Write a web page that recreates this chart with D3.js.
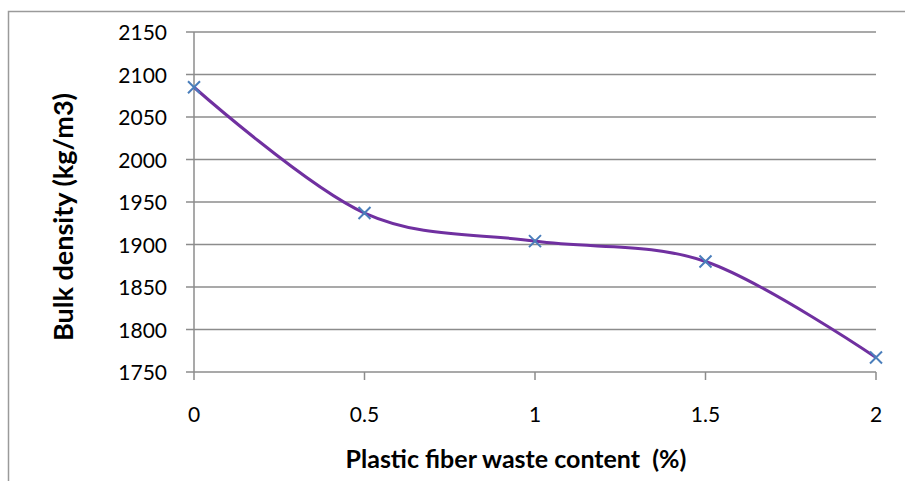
<!DOCTYPE html>
<html>
<head>
<meta charset="utf-8">
<script src="https://cdn.jsdelivr.net/npm/d3@7"></script>
<style>
body { margin: 0; background: #fff; }
svg { display: block; font-family: Lato, "Open Sans", sans-serif; }
</style>
</head>
<body>
<svg id="chart" width="905" height="481"></svg>
<script>
// values
let fiber = [0, 0.5, 1, 1.5, 2];
let density = [2085, 1937, 1904, 1880, 1767];
let xTicks = [0, 0.5, 1, 1.5, 2];
let yTicks = [1750, 1800, 1850, 1900, 1950, 2000, 2050, 2100, 2150];

let svg = d3.select('#chart');
let plotLeft = 194, plotRight = 876, plotTop = 32, plotBottom = 372;

let x = d3.scaleLinear().domain([0, 2]).range([plotLeft, plotRight]);
let y = d3.scaleLinear().domain([1750, 2150]).range([plotBottom, plotTop]);

// outer chart border (only top and left show)
svg.append('path')
	.attr('d', 'M8.5,481 L8.5,11.5 L905,11.5')
	.style('fill', 'none').style('stroke', '#9a9a9a').style('stroke-width', 1.5);

// gridlines
svg.append('g').selectAll('line').data(yTicks).join('line')
	.attr('x1', plotLeft - 8).attr('x2', plotRight)
	.attr('y1', d => y(d)).attr('y2', d => y(d))
	.style('stroke', '#8c8c8c').style('stroke-width', 1.5);

// y axis line
svg.append('line').attr('x1', plotLeft).attr('x2', plotLeft).attr('y1', plotTop).attr('y2', plotBottom + 8)
	.style('stroke', '#8c8c8c').style('stroke-width', 1.5);

// x tick marks
svg.append('g').selectAll('line').data(xTicks.slice(1)).join('line')
	.attr('x1', d => x(d)).attr('x2', d => x(d))
	.attr('y1', plotBottom).attr('y2', plotBottom + 8)
	.style('stroke', '#8c8c8c').style('stroke-width', 1.5);

// tick labels
svg.append('g').selectAll('text').data(yTicks).join('text')
	.attr('x', plotLeft - 27).attr('y', d => y(d) + 8)
	.attr('text-anchor', 'end')
	.style('font-size', '21px').style('fill', '#000')
	.text(d => d);
svg.append('g').selectAll('text').data(xTicks).join('text')
	.attr('x', d => x(d)).attr('y', 422)
	.attr('text-anchor', 'middle')
	.style('font-size', '21px').style('fill', '#000')
	.text(d => d);

// smoothed line like Excel
let lineFn = d3.line().x(d => x(d[0])).y(d => y(d[1])).curve(d3.curveCardinal.tension(0));
let pts = fiber.map((f, i) => [f, density[i]]);
svg.append('path')
	.attr('d', lineFn(pts))
	.style('fill', 'none').style('stroke', '#7030a0').style('stroke-width', 3);

// x markers
let s = 6;
svg.append('g').selectAll('path').data(pts).join('path')
	.attr('d', d => {
		let cx = x(d[0]), cy = y(d[1]);
		return `M${cx - s},${cy - s}L${cx + s},${cy + s}M${cx - s},${cy + s}L${cx + s},${cy - s}`;
	})
	.style('stroke', '#4a7ebb').style('stroke-width', 2).style('fill', 'none');

// axis titles
svg.append('text')
	.attr('transform', 'translate(73, 217) rotate(-90)')
	.attr('text-anchor', 'middle')
	.style('font-size', '27px').style('font-weight', 'bold')
	.text('Bulk density (kg/m3)');
svg.append('text')
	.attr('x', 516).attr('y', 468)
	.attr('text-anchor', 'middle')
	.style('font-size', '25px').style('font-weight', 'bold')
	.style('white-space', 'pre')
	.text('Plastic fiber waste content  (%)');
</script>
</body>
</html>
